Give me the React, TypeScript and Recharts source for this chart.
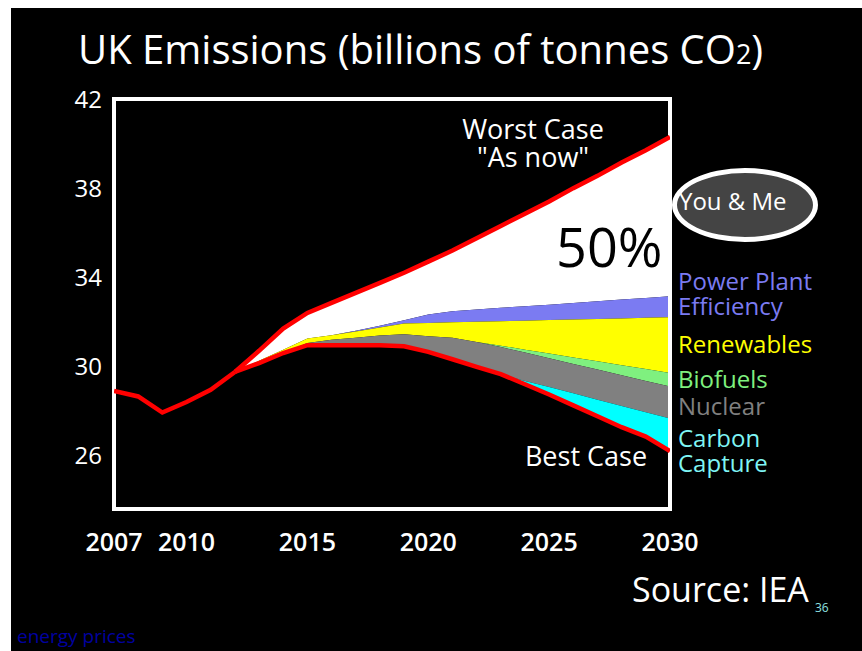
import { ComposedChart, Area, Line, XAxis, YAxis, ReferenceArea } from "recharts";

// --- Historic emissions (single red line) ---
const histYears = [2007, 2008, 2009, 2010, 2011, 2012];
const historic = [28.9, 28.65, 27.93, 28.4, 28.95, 29.75];

// --- Scenario fan, 2012–2030: boundaries of each wedge ---
const projYears = [2012, 2013, 2014, 2015, 2016, 2017, 2018, 2019, 2020, 2021, 2022, 2023, 2024, 2025, 2026, 2027, 2028, 2029, 2030];
const worstCase = [29.75, 30.7, 31.7, 32.4, 32.85, 33.3, 33.75, 34.2, 34.7, 35.2, 35.75, 36.3, 36.85, 37.4, 38.0, 38.55, 39.15, 39.7, 40.3];
const efficiencyTop = [29.75, 30.25, 30.75, 31.25, 31.4, 31.6, 31.82, 32.07, 32.33, 32.47, 32.55, 32.63, 32.7, 32.77, 32.85, 32.92, 33.0, 33.07, 33.15];
const renewablesTop = [29.75, 30.25, 30.75, 31.25, 31.4, 31.57, 31.75, 31.93, 31.95, 31.98, 32.0, 32.03, 32.05, 32.08, 32.1, 32.13, 32.15, 32.18, 32.2];
const biofuelsTop = [29.75, 30.2, 30.6, 31.05, 31.2, 31.29, 31.39, 31.44, 31.35, 31.28, 31.1, 30.93, 30.75, 30.58, 30.4, 30.23, 30.05, 29.88, 29.7];
const nuclearTop = [29.75, 30.2, 30.6, 31.05, 31.2, 31.29, 31.39, 31.44, 31.35, 31.28, 31.1, 30.87, 30.62, 30.37, 30.11, 29.86, 29.6, 29.35, 29.1];
const captureTop = [29.75, 30.15, 30.6, 30.95, 30.95, 30.95, 30.95, 30.9, 30.65, 30.32, 29.98, 29.65, 29.35, 29.07, 28.79, 28.5, 28.22, 27.94, 27.66];
const bestCase = [29.75, 30.15, 30.6, 30.95, 30.95, 30.95, 30.95, 30.9, 30.65, 30.32, 29.98, 29.65, 29.2, 28.74, 28.25, 27.76, 27.27, 26.85, 26.2];

const xTicks = [2007, 2010, 2015, 2020, 2025, 2030];
const yTicks = [26, 30, 34, 38, 42];

const allYears = Array.from(new Set([...histYears, ...projYears]));

const rows = allYears.map((year) => {
  const row: any = { year };
  const h = histYears.indexOf(year);
  const p = projYears.indexOf(year);
  if (h >= 0) row.historic = historic[h];
  if (p >= 0) {
    row.worst = worstCase[p];
    row.best = bestCase[p];
    row.you = [efficiencyTop[p], worstCase[p]];
    row.efficiency = [renewablesTop[p], efficiencyTop[p]];
    row.renewables = [biofuelsTop[p], renewablesTop[p]];
    row.biofuels = [nuclearTop[p], biofuelsTop[p]];
    row.nuclear = [captureTop[p], nuclearTop[p]];
    row.capture = [bestCase[p], captureTop[p]];
  }
  return row;
});

const FONT = "'Open Sans', sans-serif";

const txt = (left: number, top: number, size: number, color: string, extra: any = {}) => ({
  position: "absolute" as const,
  left,
  top,
  fontSize: size,
  lineHeight: 1,
  color,
  whiteSpace: "nowrap" as const,
  ...extra,
});

export default function App() {
  return (
    <div style={{ position: "absolute", left: 0, top: 0, width: 862, height: 651, background: "#fff", fontFamily: FONT, overflow: "hidden" }}>
      <div style={{ position: "absolute", left: 11, top: 8, width: 851, height: 643, background: "#000" }} />

      <div style={{ position: "absolute", left: 0, top: 0 }}>
        <ComposedChart width={862} height={651} data={rows} margin={{ top: 99, right: 192, bottom: 102, left: 54 }}>
          <XAxis
            dataKey="year"
            type="number"
            domain={[2007, 2030]}
            ticks={xTicks}
            allowDataOverflow
            axisLine={false}
            tickLine={false}
            tickSize={0}
            tickMargin={24}
            height={40}
            tick={{ fill: "#fff", fontSize: 25, fontWeight: 600, fontFamily: FONT }}
          />
          <YAxis
            type="number"
            domain={[23.6, 42]}
            ticks={yTicks}
            allowDataOverflow
            axisLine={false}
            tickLine={false}
            tickSize={0}
            tickMargin={12}
            width={60}
            tick={{ fill: "#fff", fontSize: 24, fontFamily: FONT }}
          />
          <Area type="linear" dataKey="you" fill="#ffffff" fillOpacity={1} stroke="none" isAnimationActive={false} />
          <Area type="linear" dataKey="efficiency" fill="#7b7bf2" fillOpacity={1} stroke="none" isAnimationActive={false} />
          <Area type="linear" dataKey="renewables" fill="#ffff00" fillOpacity={1} stroke="none" isAnimationActive={false} />
          <Area type="linear" dataKey="biofuels" fill="#7ff07f" fillOpacity={1} stroke="none" isAnimationActive={false} />
          <Area type="linear" dataKey="nuclear" fill="#808080" fillOpacity={1} stroke="none" isAnimationActive={false} />
          <Area type="linear" dataKey="capture" fill="#00ffff" fillOpacity={1} stroke="none" isAnimationActive={false} />
          <Line type="linear" dataKey="historic" stroke="#ff0000" strokeWidth={4.5} dot={false} isAnimationActive={false} />
          <Line type="linear" dataKey="worst" stroke="#ff0000" strokeWidth={4.5} dot={false} isAnimationActive={false} />
          <Line type="linear" dataKey="best" stroke="#ff0000" strokeWidth={4.5} dot={false} isAnimationActive={false} />
          <ReferenceArea x1={2007} x2={2030} y1={23.6} y2={42} fill="none" stroke="#fff" strokeWidth={4} />
        </ComposedChart>
      </div>

      {/* title */}
      <div style={txt(78, 29, 40, "#fff")}>
        UK Emissions (billions of tonnes CO<span style={{ fontSize: 27 }}>2</span>)
      </div>

      {/* annotations inside plot */}
      <div style={txt(433, 115, 27, "#fff", { width: 200, textAlign: "center", lineHeight: "28px" })}>
        Worst Case
        <br />
        "As now"
      </div>
      <div style={txt(486, 442, 27, "#fff", { width: 200, textAlign: "center" })}>Best Case</div>
      <div style={txt(556, 219, 54, "#000")}>50%</div>

      {/* You & Me bubble */}
      <div
        style={{
          position: "absolute",
          left: 672,
          top: 168,
          width: 146,
          height: 74,
          boxSizing: "border-box",
          border: "5px solid #fff",
          borderRadius: "50%",
          background: "#444",
        }}
      />
      <div style={txt(679, 189, 24, "#fff")}>You &amp; Me</div>

      {/* wedge labels */}
      <div style={txt(678, 268, 24, "#7b7bf2", { lineHeight: "25px" })}>
        Power Plant
        <br />
        Efficiency
      </div>
      <div style={txt(678, 331, 24, "#ffff00", { lineHeight: "25px" })}>Renewables</div>
      <div style={txt(678, 365, 24, "#7ff07f", { lineHeight: "27px" })}>
        <span style={{ display: "block" }}>Biofuels</span>
        <span style={{ display: "block", color: "#808080" }}>Nuclear</span>
      </div>
      <div style={txt(678, 425, 24, "#7ff5f5", { lineHeight: "25px" })}>
        Carbon
        <br />
        Capture
      </div>

      {/* footer */}
      <div style={txt(632, 572, 34, "#fff")}>Source: IEA</div>
      <div style={txt(815, 602, 12, "#8fe0e0")}>36</div>
      <div style={txt(17, 627, 19, "#0000a0")}>energy prices</div>
    </div>
  );
}
